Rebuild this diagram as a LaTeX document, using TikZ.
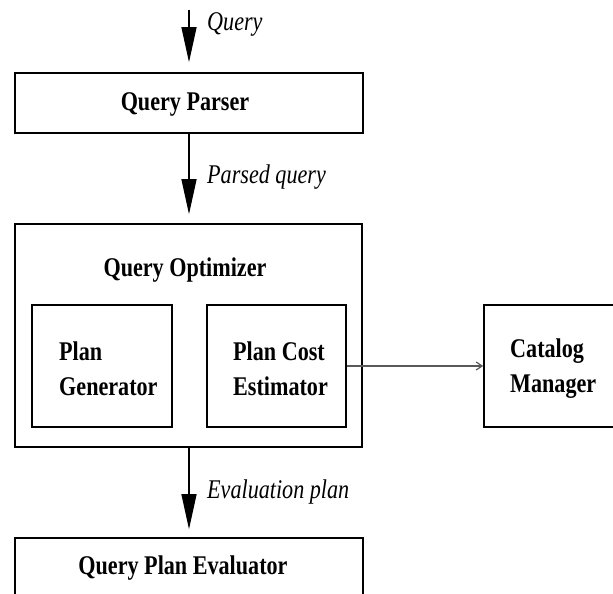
\documentclass[tikz,border=0pt]{standalone}
\usepackage{fontspec}
\setmainfont{Liberation Serif}[FakeStretch=0.82]
\usetikzlibrary{arrows.meta}
\begin{document}
\begin{tikzpicture}[x=1pt,y=-1pt,
  font=\fontsize{27}{35}\selectfont,
  box/.style={draw=black,line width=1.6pt,rectangle,inner sep=0pt},
  btext/.style={font=\fontsize{27}{35}\selectfont\bfseries,inner sep=0pt},
  ltext/.style={font=\fontsize{27}{35}\selectfont\itshape,inner sep=0pt,anchor=west},
  flow/.style={line width=1.3pt,-{Triangle[length=35pt,width=15pt]}},
  lookup/.style={line width=1.3pt,draw=black!65,-{Straight Barb[length=6pt,width=8pt,line width=1.2pt]}}]
\useasboundingbox (0,0) rectangle (613,594);
\fill[white] (0,0) rectangle (613,594);
% boxes
\node[box,minimum width=348pt,minimum height=60pt] (parser) at (189,103) {};
\node[box,minimum width=347pt,minimum height=223pt] (opt) at (188.5,335.5) {};
\node[box,minimum width=140pt,minimum height=122pt] (gen) at (102,366) {};
\node[box,minimum width=139pt,minimum height=122pt] (est) at (276.5,366) {};
\node[box,minimum width=141pt,minimum height=122pt] (cat) at (554.5,366) {};
\node[box,minimum width=348pt,minimum height=72pt] (eval) at (189,574) {};
% texts
\node[btext] (parserT) at (185,104) {Query Parser};
\node[btext] (optT) at (185,270) {Query Optimizer};
\node[btext,align=left,anchor=west] (genT) at (59,369) {Plan\\Generator};
\node[btext,align=left,anchor=west] (estT) at (233,369) {Plan Cost\\Estimator};
\node[btext,align=left,anchor=west] (catT) at (510,369) {Catalog\\Manager};
\node[btext] (evalT) at (183,568) {Query Plan Evaluator};
% input
\coordinate (in) at (189,10);
\draw[flow,shorten >=10pt] (in) -- (parser.north);
\draw[flow,shorten >=9pt] (parser.south) -- (opt.north -| parser.south);
\draw[flow,shorten >=8pt] (opt.south -| parser.south) -- (eval.north -| parser.south);
\draw[lookup] (est.east) -- (cat.west);
% labels
\node[ltext] (lq) at (207,24) {Query};
\node[ltext] (lp) at (207,177) {Parsed query};
\node[ltext] (le) at (207,492) {Evaluation plan};
\end{tikzpicture}
\end{document}
